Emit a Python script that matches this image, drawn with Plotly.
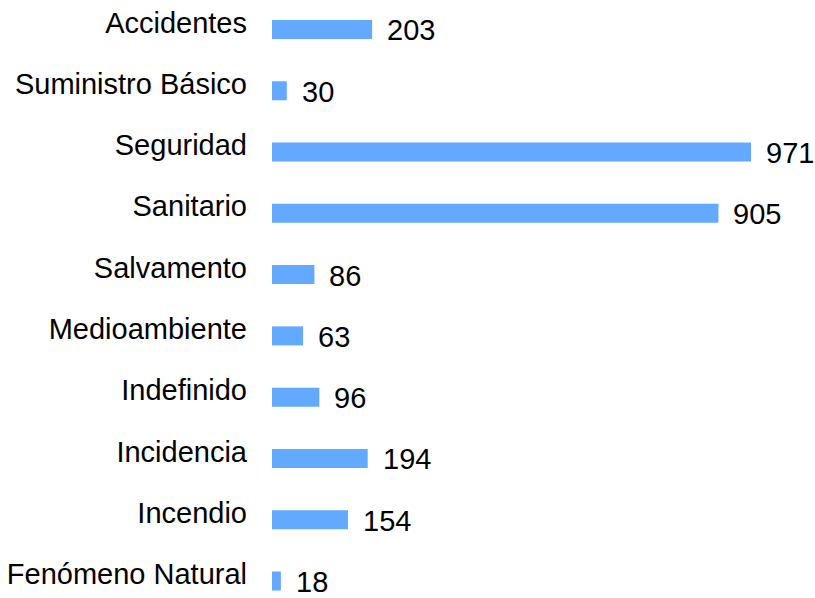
import plotly.graph_objects as go

categories = ["Accidentes", "Suministro Básico", "Seguridad", "Sanitario", "Salvamento",
              "Medioambiente", "Indefinido", "Incidencia", "Incendio", "Fenómeno Natural"]
values = [203, 30, 971, 905, 86, 63, 96, 194, 154, 18]

FONT = "Liberation Sans, Arial, sans-serif"

fig = go.Figure()
fig.add_trace(go.Bar(
    x=values, y=categories, orientation="h",
    marker=dict(color="#63A9FF", line=dict(width=0)),
    width=0.31, hoverinfo="skip",
))

for c, v in zip(categories, values):
    fig.add_annotation(x=v, y=c, text=str(v), showarrow=False,
                       xanchor="left", yanchor="middle", xshift=13, yshift=-1,
                       font=dict(family=FONT, size=29, color="black"))

fig.update_layout(
    width=815, height=598,
    margin=dict(l=272, r=0, t=0, b=0),
    paper_bgcolor="white", plot_bgcolor="white",
    showlegend=False,
    xaxis=dict(range=[0, 1100.7], visible=False, fixedrange=True),
    yaxis=dict(categoryorder="array", categoryarray=categories,
               range=[9.277, -0.481], showgrid=False, zeroline=False,
               showline=False, ticks="", ticklabelstandoff=24,
               ticklabelshift=7, fixedrange=True,
               tickfont=dict(family=FONT, size=29, color="black")),
)

fig.write_html("out.html",
               config={"displayModeBar": False, "staticPlot": True},
               post_script="document.body.style.margin='0';document.body.style.overflow='hidden';")
